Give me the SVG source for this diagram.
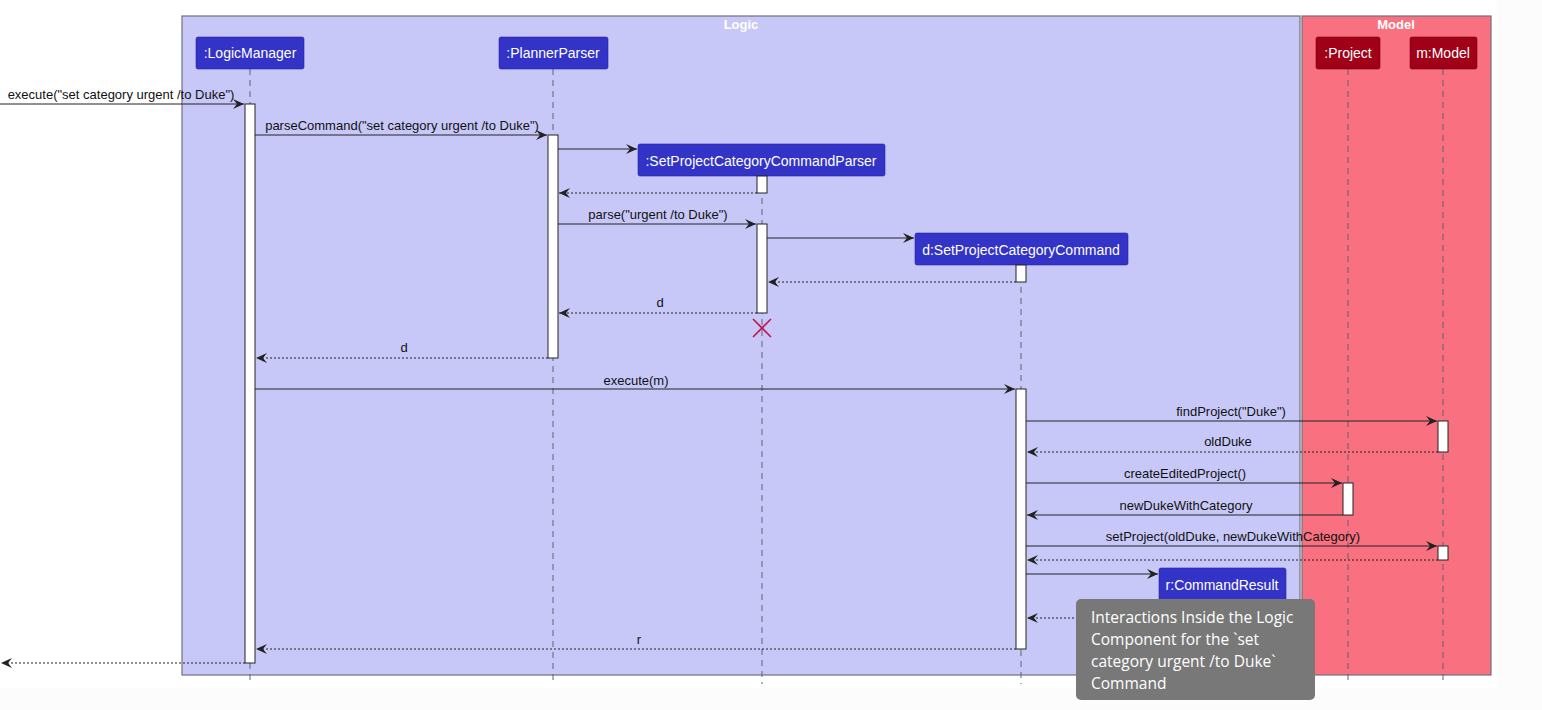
<svg xmlns="http://www.w3.org/2000/svg" width="1542" height="710" viewBox="0 0 1542 710">
<defs>
<marker id="ah" markerWidth="12" markerHeight="10" refX="11" refY="5" orient="auto" markerUnits="userSpaceOnUse">
<path d="M0,0 L11,5 L0,10 L4,5 Z" fill="#222"/>
</marker>
<style>
.box{stroke:#707080;stroke-width:1.2}
.title{font-family:"Liberation Sans",Arial,sans-serif;font-size:13px;font-weight:bold;fill:#fff;text-anchor:middle}
.pl{fill:#3333c8;stroke:#25259a;stroke-width:0.6}
.pm{fill:#a00018;stroke:#700010;stroke-width:0.6}
.pt{font-family:"Liberation Sans",Arial,sans-serif;font-size:14px;fill:#fff;text-anchor:middle}
.life{stroke:#606070;stroke-width:1;stroke-dasharray:6,5}
.act{fill:#fff;stroke:#222;stroke-width:1}
.msg{stroke:#222;stroke-width:1;fill:none;marker-end:url(#ah)}
.ret{stroke:#222;stroke-width:1;fill:none;stroke-dasharray:2,2;marker-end:url(#ah)}
.ml{font-family:"Liberation Sans",Arial,sans-serif;font-size:13px;fill:#111;text-anchor:middle}
.nt{font-family:"Open Sans","Noto Sans",sans-serif;font-size:15.5px;fill:#fff}
</style>
</defs>
<rect x="0" y="0" width="1542" height="710" fill="#fcfcfc"/>
<rect x="0" y="0" width="1497" height="688" fill="#ffffff"/>
<g id="logic-box">
<rect class="box" x="182" y="16" width="1118" height="659" fill="#c8c8f8"/>
<text class="title" x="741" y="29">Logic</text>
</g>
<g id="model-box">
<rect class="box" x="1302" y="16" width="189" height="659" fill="#f97080"/>
<text class="title" x="1396" y="29">Model</text>
</g>
<g id="lifelines">
<line class="life" x1="250" y1="69" x2="250" y2="684"/>
<line class="life" x1="553" y1="69" x2="553" y2="684"/>
<line class="life" x1="762" y1="176" x2="762" y2="684"/>
<line class="life" x1="1021" y1="265" x2="1021" y2="684"/>
<line class="life" x1="1348" y1="69" x2="1348" y2="684"/>
<line class="life" x1="1443" y1="69" x2="1443" y2="684"/>
</g>
<g id="LogicManager">
<rect class="pl" x="196" y="37" width="108" height="32" rx="2"/>
<text class="pt" x="250" y="58">:LogicManager</text>
</g>
<g id="PlannerParser">
<rect class="pl" x="499" y="37" width="109" height="32" rx="2"/>
<text class="pt" x="553" y="58">:PlannerParser</text>
</g>
<g id="SetProjectCategoryCommandParser">
<rect class="pl" x="638" y="144" width="247" height="32" rx="2"/>
<text class="pt" x="761" y="166">:SetProjectCategoryCommandParser</text>
</g>
<g id="SetProjectCategoryCommand">
<rect class="pl" x="915" y="233" width="213" height="32" rx="2"/>
<text class="pt" x="1021" y="255">d:SetProjectCategoryCommand</text>
</g>
<g id="CommandResult">
<rect class="pl" x="1159" y="568" width="127" height="33" rx="2"/>
<text class="pt" x="1222" y="590">r:CommandResult</text>
</g>
<g id="Project">
<rect class="pm" x="1316" y="37" width="64" height="32" rx="2"/>
<text class="pt" x="1348" y="58">:Project</text>
</g>
<g id="Model">
<rect class="pm" x="1410" y="37" width="67" height="32" rx="2"/>
<text class="pt" x="1443" y="58">m:Model</text>
</g>
<g id="activations">
<rect class="act" x="245" y="104" width="10" height="559"/>
<rect class="act" x="548" y="135" width="10" height="223"/>
<rect class="act" x="757" y="176" width="10" height="17"/>
<rect class="act" x="757" y="224" width="10" height="89"/>
<rect class="act" x="1016" y="265" width="10" height="17"/>
<rect class="act" x="1016" y="389" width="10" height="260"/>
<rect class="act" x="1343" y="483" width="10" height="32"/>
<rect class="act" x="1438" y="421" width="10" height="31"/>
<rect class="act" x="1438" y="546" width="10" height="14"/>
</g>
<g id="connectors">
<line class="msg" x1="0" y1="104" x2="244" y2="104"/>
<text class="ml" x="121" y="99">execute("set category urgent /to Duke")</text>
<line class="msg" x1="255" y1="135" x2="547" y2="135"/>
<text class="ml" x="402" y="130">parseCommand("set category urgent /to Duke")</text>
<line class="msg" x1="558" y1="149" x2="637" y2="149"/>
<line class="ret" x1="757" y1="193" x2="559" y2="193"/>
<line class="msg" x1="558" y1="224" x2="756" y2="224"/>
<text class="ml" x="658" y="219">parse("urgent /to Duke")</text>
<line class="msg" x1="767" y1="238" x2="914" y2="238"/>
<line class="ret" x1="1016" y1="282" x2="768" y2="282"/>
<line class="ret" x1="757" y1="313" x2="559" y2="313"/>
<text class="ml" x="660" y="307">d</text>
<g id="destroy" stroke="#c0144a" stroke-width="1.6">
<line x1="753" y1="319" x2="771" y2="337"/>
<line x1="771" y1="319" x2="753" y2="337"/>
</g>
<line class="ret" x1="548" y1="358" x2="256" y2="358"/>
<text class="ml" x="404" y="352">d</text>
<line class="msg" x1="255" y1="389" x2="1015" y2="389"/>
<text class="ml" x="636" y="385">execute(m)</text>
<line class="msg" x1="1026" y1="421" x2="1437" y2="421"/>
<text class="ml" x="1231" y="416">findProject("Duke")</text>
<line class="ret" x1="1438" y1="452" x2="1027" y2="452"/>
<text class="ml" x="1228" y="446">oldDuke</text>
<line class="msg" x1="1026" y1="483" x2="1342" y2="483"/>
<text class="ml" x="1185" y="478">createEditedProject()</text>
<line class="msg" x1="1343" y1="515" x2="1027" y2="515"/>
<text class="ml" x="1186" y="510">newDukeWithCategory</text>
<line class="msg" x1="1026" y1="546" x2="1437" y2="546"/>
<text class="ml" x="1233" y="541">setProject(oldDuke, newDukeWithCategory)</text>
<line class="ret" x1="1438" y1="560" x2="1027" y2="560"/>
<line class="msg" x1="1026" y1="574" x2="1158" y2="574"/>
<line class="ret" x1="1222" y1="618" x2="1027" y2="618"/>
<line class="ret" x1="1016" y1="649" x2="256" y2="649"/>
<text class="ml" x="639" y="644">r</text>
<line class="ret" x1="245" y1="663" x2="1" y2="663"/>
</g>
<g id="note">
<rect x="1076" y="599" width="239" height="101" rx="5" fill="#787878"/>
<text class="nt" x="1091" y="623">Interactions Inside the Logic</text>
<text class="nt" x="1091" y="645">Component for the `set</text>
<text class="nt" x="1091" y="667">category urgent /to Duke`</text>
<text class="nt" x="1091" y="689">Command</text>
</g>
</svg>
